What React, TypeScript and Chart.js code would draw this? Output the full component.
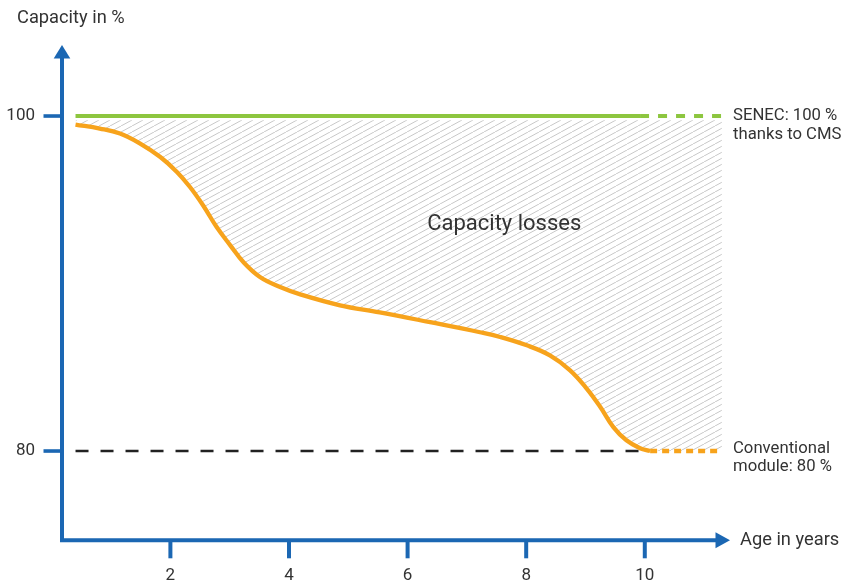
import React, { useEffect, useRef } from "react";
import { Chart, registerables } from "chart.js";

Chart.register(...registerables);

// ---- data (years, capacity %) ----
const conventionalYears = [0.4, 0.81, 1.15, 1.49, 1.83, 2.11, 2.33, 2.55, 2.78, 3.01, 3.23, 3.51, 3.85, 4.19, 4.86, 5.53, 6.38, 7.22, 7.56, 8.01, 8.4, 8.74, 9.02, 9.25, 9.47, 9.69, 9.92, 10.09];
const conventionalValues = [99.49, 99.25, 98.95, 98.35, 97.55, 96.66, 95.76, 94.67, 93.37, 92.28, 91.28, 90.39, 89.79, 89.35, 88.7, 88.28, 87.69, 87.09, 86.81, 86.31, 85.71, 84.82, 83.73, 82.63, 81.43, 80.64, 80.17, 80.0];
const conventionalProjYears = [10.09, 11.3];
const conventionalProjValues = [80, 80];
const senecYears = [0.4, 9.92];
const senecValues = [100, 100];
const senecProjYears = [9.92, 11.3];
const senecProjValues = [100, 100];
const referenceYears = [0.4, 10.09];
const referenceValues = [80, 80];
const xTicks = [2, 4, 6, 8, 10];
const yTicks = [80, 100];
const xTitle = "Age in years";
const yTitle = "Capacity in %";
const senecLabel = ["SENEC: 100 %", "thanks to CMS"];
const convLabel = ["Conventional", "module: 80 %"];
const lossLabel = "Capacity losses";

const BLUE = "#1b67b3";
const GREEN = "#8dc63f";
const ORANGE = "#f7a31c";
const TEXT = "#333333";
const FONT = "Roboto, 'DejaVu Sans', sans-serif";

const pts = (xs: number[], ys: number[]) => xs.map((x, i) => ({ x, y: ys[i] }));

function makeHatch(): CanvasPattern | string {
  const c = document.createElement("canvas");
  const w = 11;
  const h = 6;
  c.width = w;
  c.height = h;
  const g = c.getContext("2d");
  if (!g) return "rgba(200,200,200,0.5)";
  g.strokeStyle = "#c8c8c8";
  g.lineWidth = 1;
  for (const off of [-w, 0, w]) {
    g.beginPath();
    g.moveTo(off, h);
    g.lineTo(off + w, 0);
    g.stroke();
  }
  const p = g.createPattern(c, "repeat");
  return p || "rgba(200,200,200,0.5)";
}

const decorPlugin = {
  id: "decor",
  afterDraw(chart: any) {
    const ctx = chart.ctx as CanvasRenderingContext2D;
    const { left, right, top, bottom } = chart.chartArea;
    const xs = chart.scales.x;
    const ys = chart.scales.y;
    ctx.save();
    // axes
    ctx.strokeStyle = BLUE;
    ctx.fillStyle = BLUE;
    ctx.lineWidth = 4;
    ctx.lineJoin = "miter";
    ctx.beginPath();
    ctx.moveTo(left, top + 12);
    ctx.lineTo(left, bottom);
    ctx.lineTo(right - 12, bottom);
    ctx.stroke();
    // arrows
    ctx.beginPath();
    ctx.moveTo(left, top);
    ctx.lineTo(left + 8.3, top + 13.5);
    ctx.lineTo(left - 8.3, top + 13.5);
    ctx.closePath();
    ctx.fill();
    ctx.beginPath();
    ctx.moveTo(right, bottom);
    ctx.lineTo(right - 14.5, bottom - 8);
    ctx.lineTo(right - 14.5, bottom + 8);
    ctx.closePath();
    ctx.fill();
    // ticks
    ctx.lineWidth = 3.6;
    ctx.lineCap = "butt";
    for (const v of yTicks) {
      const y = ys.getPixelForValue(v);
      ctx.beginPath();
      ctx.moveTo(left - 18.5, y);
      ctx.lineTo(left, y);
      ctx.stroke();
    }
    ctx.lineWidth = 4;
    for (const v of xTicks) {
      const x = xs.getPixelForValue(v);
      ctx.beginPath();
      ctx.moveTo(x, bottom);
      ctx.lineTo(x, bottom + 18);
      ctx.stroke();
    }
    // tick labels
    ctx.fillStyle = TEXT;
    ctx.font = `17px ${FONT}`;
    ctx.textBaseline = "middle";
    ctx.textAlign = "right";
    for (const v of yTicks) {
      ctx.fillText(String(v), left - 27, ys.getPixelForValue(v));
    }
    ctx.textAlign = "center";
    for (const v of xTicks) {
      ctx.fillText(String(v), xs.getPixelForValue(v), bottom + 35);
    }
    // titles
    ctx.textAlign = "left";
    ctx.font = `18.3px ${FONT}`;
    ctx.fillText(yTitle, 17, 18);
    ctx.fillText(xTitle, right + 10, bottom);
    // annotations
    ctx.font = `16.7px ${FONT}`;
    const ax = right + 3;
    const y100 = ys.getPixelForValue(100);
    ctx.fillText(senecLabel[0], ax, y100);
    ctx.fillText(senecLabel[1], ax, y100 + 19);
    const y80 = ys.getPixelForValue(80);
    ctx.fillText(convLabel[0], ax, y80 - 2);
    ctx.fillText(convLabel[1], ax, y80 + 16);
    ctx.font = `22px ${FONT}`;
    ctx.textAlign = "center";
    ctx.fillText(lossLabel, xs.getPixelForValue(7.63), ys.getPixelForValue(93.53));
    ctx.restore();
  },
};

export default function App() {
  const ref = useRef<HTMLCanvasElement | null>(null);
  useEffect(() => {
    if (!ref.current) return;
    const hatch = makeHatch();
    const common = { pointRadius: 0, pointHoverRadius: 0, fill: false, tension: 0 };
    const chart = new Chart(ref.current, {
      type: "line",
      data: {
        datasets: [
          {
            ...common,
            data: pts(conventionalYears, conventionalValues),
            borderColor: ORANGE,
            borderWidth: 4.3,
            tension: 0.4,
            order: 1,
          } as any,
          {
            ...common,
            data: pts(conventionalProjYears, conventionalProjValues),
            borderColor: ORANGE,
            borderWidth: 4.3,
            borderDash: [7, 5],
            order: 1,
          },
          {
            ...common,
            data: pts(senecYears, senecValues),
            borderColor: GREEN,
            borderWidth: 4,
            order: 2,
          },
          {
            ...common,
            data: pts(senecProjYears, senecProjValues),
            borderColor: GREEN,
            borderWidth: 4,
            borderDash: [9, 9],
            order: 2,
          },
          {
            ...common,
            data: pts(referenceYears, referenceValues),
            borderColor: "#222222",
            borderWidth: 2.5,
            borderDash: [13, 12],
            order: 3,
          },
          {
            ...common,
            data: pts(conventionalYears.concat([11.3]), conventionalValues.concat([80])),
            borderWidth: 0,
            borderColor: "rgba(0,0,0,0)",
            backgroundColor: hatch as any,
            fill: { value: 99.75 },
            tension: 0.4,
            order: 9,
          } as any,
        ],
      },
      options: {
        animation: false,
        responsive: false,
        events: [],
        layout: { padding: { left: 62, right: 111, top: 45, bottom: 44.7 } },
        scales: {
          x: { type: "linear", min: 0.172, max: 11.437, display: false },
          y: { type: "linear", min: 74.67, max: 104.24, display: false },
        },
        plugins: { legend: { display: false }, tooltip: { enabled: false } },
      },
      plugins: [decorPlugin],
    });
    return () => chart.destroy();
  }, []);
  return (
    <div style={{ position: "fixed", left: 0, top: 0, width: 841, height: 585, background: "#fff" }}>
      <canvas ref={ref} width={841} height={585} style={{ display: "block" }} />
    </div>
  );
}
